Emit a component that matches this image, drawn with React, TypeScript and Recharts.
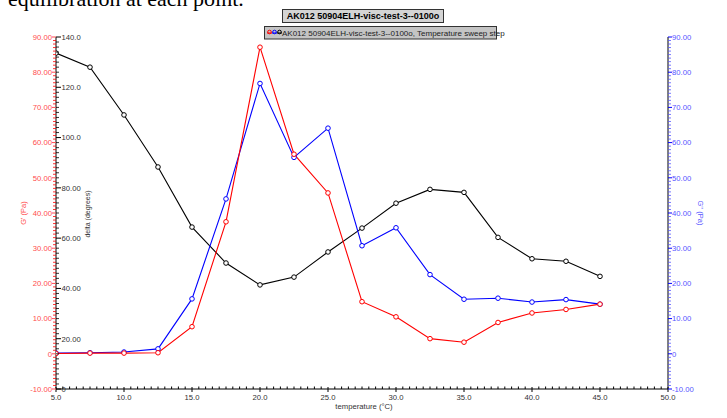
import React from 'react';
import { LineChart, Line, XAxis, YAxis } from 'recharts';

const temperature = [5, 7.5, 10, 12.5, 15, 17.5, 20, 22.5, 25, 27.5, 30, 32.5, 35, 37.5, 40, 42.5, 45];
const gPrime = [0.1, 0.2, 0.2, 0.3, 7.7, 37.5, 87.1, 56.7, 45.7, 14.8, 10.5, 4.3, 3.3, 8.9, 11.6, 12.6, 14.1];
const gDoublePrime = [0.2, 0.3, 0.5, 1.4, 15.6, 44.0, 76.8, 55.8, 64.1, 30.7, 35.8, 22.5, 15.5, 15.8, 14.7, 15.4, 14.1];
const delta = [133.6, 128.0, 109.0, 88.3, 64.4, 50.1, 41.4, 44.5, 54.5, 64.0, 73.9, 79.4, 78.2, 60.3, 51.8, 50.8, 44.8];

const xMajorTicks = [5, 10, 15, 20, 25, 30, 35, 40, 45, 50];
const gMajorTicks = [-10, 0, 10, 20, 30, 40, 50, 60, 70, 80, 90];
const deltaMajorTicks = [0, 20, 40, 60, 80, 100, 120, 140];

const seriesName = 'AK012 50904ELH-visc-test-3--0100o';
const legendText = 'AK012 50904ELH-visc-test-3--0100o, Temperature sweep step';

const range = (a: number, b: number, step: number) => {
  const out: number[] = [];
  for (let v = a; v <= b + 1e-9; v += step) out.push(Math.round(v * 100) / 100);
  return out;
};
const xTicks = range(5, 50, 0.5);
const gTicks = range(-10, 90, 1);
const deltaTicks = range(0, 140, 2);

const data = temperature.map((t, i) => ({
  t,
  gp: gPrime[i],
  gpp: gDoublePrime[i],
  delta: delta[i],
}));

const FONT = '"Liberation Sans", Arial, sans-serif';
const RED = '#ff0000';
const BLUE = '#0000ff';
const LRED = '#ff4d4d';
const LBLUE = '#5555ff';
const GREY = '#333333';

const isMult = (v: number, m: number) => Math.abs(v / m - Math.round(v / m)) < 1e-6;
const fmt2 = (v: number) => (v === 0 ? '0' : v.toFixed(2));
const fmtDelta = (v: number) => (v === 0 ? '0' : v.toPrecision(4));

const XTick = (props: any) => {
  const { x, y, payload } = props;
  const v = payload.value;
  if (isMult(v, 5)) {
    return (
      <g>
        <line x1={x} x2={x} y1={y - 2} y2={y + 3} stroke="#000" strokeWidth={1} />
        <text x={x} y={y + 10.5} textAnchor="middle" fontSize={7.7} fontFamily={FONT} fill={GREY}>
          {v.toFixed(1)}
        </text>
      </g>
    );
  }
  return <line x1={x} x2={x} y1={y - 2.5} y2={y} stroke="#000" strokeWidth={1} />;
};

const GTick = (props: any) => {
  const { x, y, payload } = props;
  const v = payload.value;
  if (isMult(v, 10)) {
    return (
      <g>
        <line x1={x - 4} x2={x} y1={y} y2={y} stroke={LRED} strokeWidth={1} />
        <text x={x - 4} y={y + 2.8} textAnchor="end" fontSize={7.7} fontFamily={FONT} fill={LRED}>
          {fmt2(v)}
        </text>
      </g>
    );
  }
  return <line x1={x - 3} x2={x} y1={y} y2={y} stroke={RED} strokeWidth={0.8} />;
};

const DeltaTick = (props: any) => {
  const { x, y, payload } = props;
  const v = payload.value;
  if (isMult(v, 20)) {
    return (
      <g>
        <line x1={x} x2={x + 5} y1={y} y2={y} stroke="#000" strokeWidth={1} />
        <text x={x + 5.5} y={y + 2.8} textAnchor="start" fontSize={7.7} fontFamily={FONT} fill={GREY}>
          {fmtDelta(v)}
        </text>
      </g>
    );
  }
  return <line x1={x} x2={x + 3} y1={y} y2={y} stroke="#000" strokeWidth={0.8} />;
};

const RightTick = (props: any) => {
  const { x, y, payload } = props;
  const v = payload.value;
  if (isMult(v, 10)) {
    return (
      <g>
        <line x1={x} x2={x + 4} y1={y} y2={y} stroke={BLUE} strokeWidth={1} />
        <text x={x + 4} y={y + 2.8} textAnchor="start" fontSize={7.7} fontFamily={FONT} fill={LBLUE}>
          {fmt2(v)}
        </text>
      </g>
    );
  }
  return <line x1={x} x2={x + 3} y1={y} y2={y} stroke={LBLUE} strokeWidth={0.8} />;
};

const dotStyle = (c: string) => ({ r: 2.3, fill: '#ffffff', stroke: c, strokeWidth: 1 });

const LegendIcon = ({ x, color }: { x: number; color: string }) => (
  <g>
    <line x1={x} x2={x + 5} y1={33} y2={33} stroke={color} strokeWidth={1} />
    <circle cx={x + 2.5} cy={32} r={1.8} fill="none" stroke={color} strokeWidth={1} />
  </g>
);

export default function App() {
  return (
    <div style={{ position: 'absolute', left: 0, top: 0, width: 727, height: 418, background: '#fff' }}>
      <LineChart
        width={727}
        height={418}
        data={data}
        margin={{ top: 37, right: 0, bottom: 0, left: 0 }}
      >
        <XAxis
          dataKey="t"
          type="number"
          domain={[5, 50]}
          ticks={xTicks}
          interval={0}
          tick={<XTick />}
          tickSize={0}
          tickMargin={0}
          tickLine={false}
          height={29}
          axisLine={{ stroke: '#000', strokeWidth: 1 }}
          allowDataOverflow
        />
        <YAxis
          yAxisId="gp"
          orientation="left"
          type="number"
          domain={[-10, 90]}
          ticks={gTicks}
          interval={0}
          tick={<GTick />}
          tickSize={0}
          tickMargin={0}
          tickLine={false}
          width={56}
          axisLine={{ stroke: '#000', strokeWidth: 1 }}
          allowDataOverflow
        />
        <YAxis
          yAxisId="delta"
          orientation="left"
          mirror
          type="number"
          domain={[0, 140]}
          ticks={deltaTicks}
          interval={0}
          tick={<DeltaTick />}
          tickSize={0}
          tickMargin={0}
          tickLine={false}
          width={40}
          axisLine={false}
          allowDataOverflow
        />
        <YAxis
          yAxisId="gpp"
          orientation="right"
          type="number"
          domain={[-10, 90]}
          ticks={gTicks}
          interval={0}
          tick={<RightTick />}
          tickSize={0}
          tickMargin={0}
          tickLine={false}
          width={59}
          axisLine={{ stroke: '#000', strokeWidth: 1 }}
          allowDataOverflow
        />
        <Line
          yAxisId="delta"
          type="linear"
          dataKey="delta"
          stroke="#000000"
          strokeWidth={1.1}
          dot={dotStyle('#000000')}
          isAnimationActive={false}
        />
        <Line
          yAxisId="gpp"
          type="linear"
          dataKey="gpp"
          stroke={BLUE}
          strokeWidth={1.1}
          dot={dotStyle(BLUE)}
          isAnimationActive={false}
        />
        <Line
          yAxisId="gp"
          type="linear"
          dataKey="gp"
          stroke={RED}
          strokeWidth={1.1}
          dot={dotStyle(RED)}
          isAnimationActive={false}
        />
      </LineChart>
      <svg
        width={727}
        height={418}
        style={{ position: 'absolute', left: 0, top: 0, pointerEvents: 'none' }}
      >
        <text x={8} y={6} fontFamily='"Liberation Serif", "Times New Roman", serif' fontSize={22} fill="#000">
          equilibration at each point.
        </text>
        <rect x={282.5} y={9.5} width={161} height={13} fill="#d4d4d4" stroke="#333" strokeWidth={1} />
        <text x={363} y={19.3} textAnchor="middle" fontFamily={FONT} fontWeight="bold" fontSize={9} fill="#000">
          {seriesName}
        </text>
        <rect x={264.5} y={26.5} width={232} height={12.5} fill="#c4c4c4" stroke="#333" strokeWidth={1} />
        <LegendIcon x={267} color={RED} />
        <LegendIcon x={272} color={BLUE} />
        <LegendIcon x={277} color="#000" />
        <text x={282} y={35.8} fontFamily={FONT} fontSize={8} fill="#222">
          {legendText}
        </text>
        <text
          transform="translate(26,213) rotate(-90)"
          textAnchor="middle"
          fontFamily={FONT}
          fontSize={7.5}
          fill={LRED}
        >
          G' (Pa)
        </text>
        <text
          transform="translate(89.5,214) rotate(-90)"
          textAnchor="middle"
          fontFamily={FONT}
          fontSize={7}
          fill={GREY}
        >
          delta (degrees)
        </text>
        <text
          transform="translate(697.5,213) rotate(90)"
          textAnchor="middle"
          fontFamily={FONT}
          fontSize={7.5}
          fill={LBLUE}
        >
          G'' (Pa)
        </text>
        <text x={364} y={408.5} textAnchor="middle" fontFamily={FONT} fontSize={7.7} fill={GREY}>
          temperature (°C)
        </text>
      </svg>
    </div>
  );
}
